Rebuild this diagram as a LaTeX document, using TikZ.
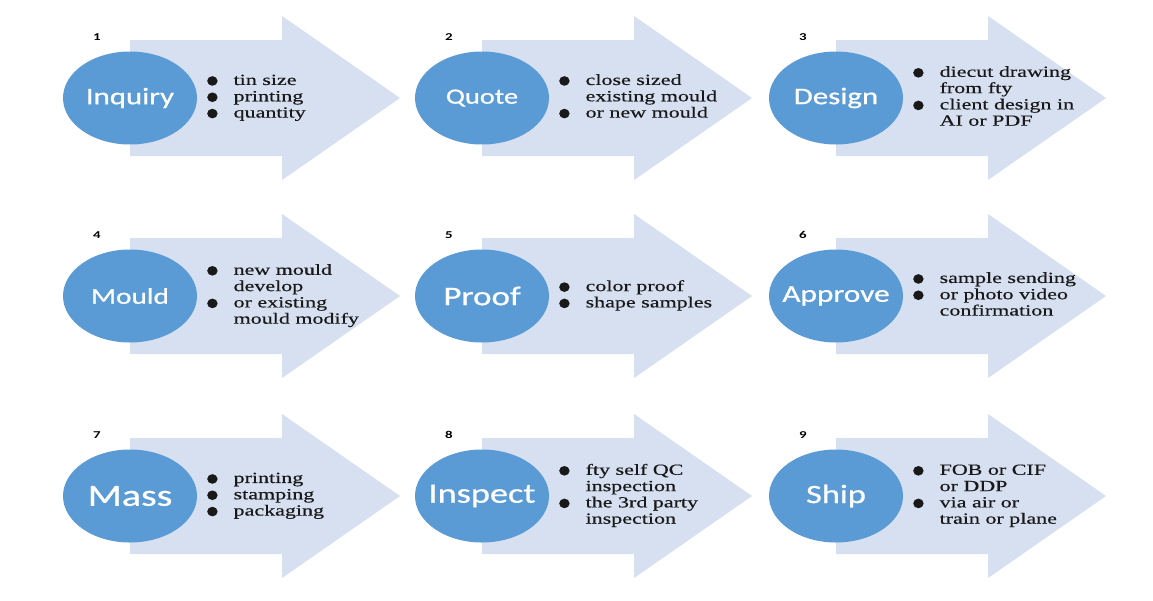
\documentclass[tikz,border=0pt]{standalone}
\usepackage{fontspec}
\setmainfont[FakeStretch=1.42,FakeBold=0.4]{Liberation Serif}
\newfontfamily\labfont[FakeStretch=1.3,FakeBold=0.7]{Carlito}
\newfontfamily\numfont[FakeStretch=1.42]{Carlito}
\usetikzlibrary{shapes.geometric}
\definecolor{circblue}{HTML}{5B9BD5}
\definecolor{arrblue}{HTML}{D6E0F0}
\tikzset{
  phase/.style={ellipse, fill=circblue, minimum width=134pt, minimum height=93pt, inner sep=0pt, text=white, font=\labfont},
  steptext/.style={anchor=west, inner sep=0pt, text=black!90, font=\fontsize{15.5}{16.3}\selectfont},
  stepnum/.style={inner sep=0pt, font=\numfont\bfseries\fontsize{10.5}{12}\selectfont},
  arrowbody/.style={fill=arrblue}
}
\newcommand\bul{\tikz[baseline={(0,-4pt)}]\fill (0,0) ellipse (5.2pt and 4.8pt);}
\newcommand\cell[7]{%
  \fill[arrowbody] (#2,#3-58) -- (#2+152,#3-58) -- (#2+152,#3-82) -- (#2+270,#3) -- (#2+152,#3+82) -- (#2+152,#3+58) -- (#2,#3+58) -- cycle;
  \node[phase] (#1) at (#2,#3) {\makebox[0pt]{\fontsize{#7}{#7}\selectfont #5}};
  \node[stepnum] (#1n) at (#2-33,#3-61) {#4};
  \node[steptext] (#1t) at (#2+77,#3) {\begin{tabular}{@{}l@{\hspace{16pt}}l@{}}#6\end{tabular}};
}
\begin{document}
\begin{tikzpicture}[x=1pt,y=-1pt]
\useasboundingbox (0,0) rectangle (1153,600);
\fill[white] (0,0) rectangle (1153,600);
\cell{inq}{130}{98}{1}{Inquiry}{\bul & tin size\\ \bul & printing\\ \bul & quantity}{23.7}
\cell{quo}{482}{98}{2}{Quote}{\bul & close sized\\ & existing mould\\ \bul & or new mould}{21.8}
\cell{des}{836}{98}{3}{Design}{\bul & diecut drawing\\ & from fty\\ \bul & client design in\\ & AI or PDF}{23.8}
\cell{mou}{130}{296}{4}{Mould}{\bul & new mould\\ & develop\\ \bul & or existing\\ & mould modify}{22.5}
\cell{pro}{482}{296}{5}{Proof}{\bul & color proof\\ \bul & shape samples}{26.9}
\cell{app}{836}{296}{6}{Approve}{\bul & sample sending\\ \bul & or photo video\\ & confirmation}{24.1}
\cell{mas}{130}{496}{7}{Mass}{\bul & printing\\ \bul & stamping\\ \bul & packaging}{30.8}
\cell{ins}{482}{496}{8}{Inspect}{\bul & fty self QC\\ & inspection\\ \bul & the 3rd party\\ & inspection}{27.9}
\cell{shi}{836}{496}{9}{Ship}{\bul & FOB or CIF\\ & or DDP\\ \bul & via air or\\ & train or plane}{26.5}
\end{tikzpicture}
\end{document}
